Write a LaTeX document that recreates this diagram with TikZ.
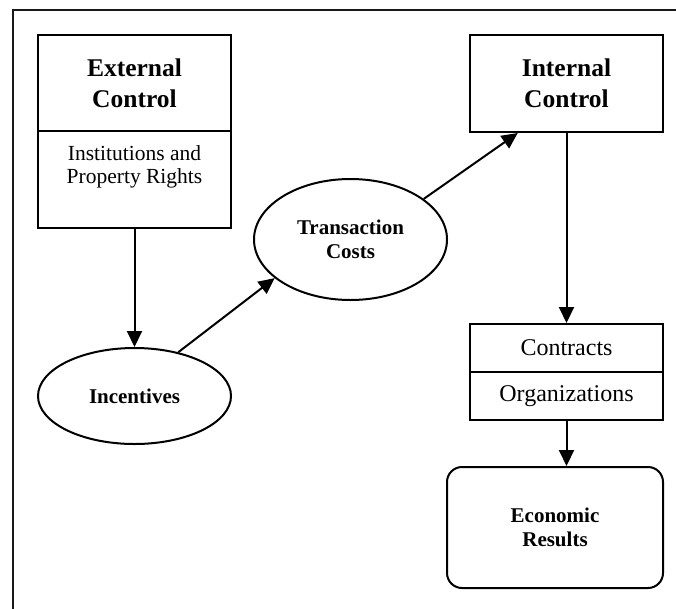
\documentclass[tikz,border=0pt]{standalone}
\usepackage{fontspec}
\setmainfont{Liberation Serif}
\usetikzlibrary{arrows.meta,shapes.geometric,calc}
\begin{document}
\begin{tikzpicture}[x=1pt,y=-1pt]
\tikzset{
  box/.style={draw, line width=2pt, minimum width=193pt, inner sep=0pt, align=center},
  oval/.style={draw, ellipse, line width=2pt, inner sep=0pt, align=center, minimum width=193pt},
  titletext/.style={font=\fontsize{25.5}{31}\selectfont\bfseries},
  boldtext/.style={font=\fontsize{21}{24}\selectfont\bfseries},
  plaintext/.style={font=\fontsize{24}{28}\selectfont},
  arr/.style={-{Triangle[length=16pt,width=15pt]}, line width=2pt}
}
\useasboundingbox (0,0) rectangle (676,608);
\clip (0,0) rectangle (676,608);
\draw[line width=2pt, black!90] (13,10) rectangle (720,650);

\node[box,titletext,minimum height=96pt] (ext) at (134.5,83) {External\\Control};
\node[box,minimum height=97pt] (extsub) at (134.5,179.5) {};
\node[font=\fontsize{21.5}{23.5}\selectfont, align=center, inner sep=0pt] (extsubtxt) at (134.5,167) {Institutions and\\Property Rights};

\node[box,titletext,minimum height=97pt] (int) at (566.5,83.5) {Internal\\Control};
\node[box,plaintext,minimum height=48pt] (contr) at (566.5,348) {Contracts};
\node[box,plaintext,minimum height=48pt] (org) at (566.5,396) {Organizations};

\node[oval,boldtext,minimum height=96pt] (inc) at (134.5,396) {Incentives};
\node[oval,boldtext,minimum height=121pt] (trans) at (350.5,239.5) {Transaction\\Costs};

\node[draw, rounded corners=15pt, line width=2pt, minimum width=216pt, minimum height=121pt, inner sep=0pt, align=center, boldtext] (econ) at (555,527.5) {Economic\\Results};

\draw[arr] (extsub.south) -- (inc.north);
\draw[arr] (inc.45) -- (trans.207);
\draw[arr] (trans.29) -- ($(int.south west)!0.25!(int.south east)$);
\draw[arr] (int.south) -- (contr.north);
\draw[arr] (org.south) -- (org.south |- econ.north);
\end{tikzpicture}
\end{document}
